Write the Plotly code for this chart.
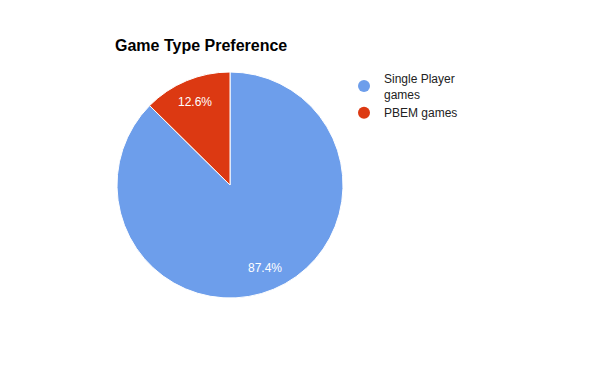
import math
import plotly.graph_objects as go

categories = ["Single Player<br>games", "PBEM games"]
values = [87.4, 12.6]
colors = ["#6d9eeb", "#dc3912"]

W, H = 600, 371
OFF = 8  # page body margin
cx, cy, r = 230 - OFF, 185 - OFF, 113

fig = go.Figure()
fig.add_trace(go.Pie(
    labels=categories, values=values, sort=False, direction="clockwise", rotation=0,
    marker=dict(colors=colors, line=dict(color="white", width=1)),
    textinfo="none", showlegend=False, hoverinfo="label+percent",
    domain=dict(x=[(cx - r) / W, (cx + r) / W], y=[(H - cy - r) / H, (H - cy + r) / H]),
))
for name, c in zip(categories, colors):
    fig.add_trace(go.Scatter(x=[None], y=[None], mode="markers", name=name,
                             marker=dict(symbol="circle", size=12, color=c)))

# percentage labels at 0.8 r along each slice's mid-angle
total = sum(values)
acc = 0
annotations = []
for v in values:
    mid = (acc + v / 2) / total * 2 * math.pi
    acc += v
    px = cx + 0.8 * r * math.sin(mid)
    py = cy - 0.8 * r * math.cos(mid)
    annotations.append(dict(x=px / W, y=1 - py / H, xref="paper", yref="paper",
                            xanchor="center", yanchor="middle",
                            text=f"{v / total * 100:.1f}%", showarrow=False,
                            font=dict(color="white", size=12, family="Liberation Sans, Arial")))

fig.update_layout(
    width=W, height=H, margin=dict(l=0, r=0, t=0, b=0),
    paper_bgcolor="white", plot_bgcolor="white",
    font=dict(family="Liberation Sans, Arial", size=12, color="#222222"),
    xaxis=dict(visible=False), yaxis=dict(visible=False),
    title=dict(text="<b>Game Type Preference</b>", x=(115 - OFF) / W, xanchor="left",
               y=1 - (45 - OFF) / H, yanchor="middle",
               font=dict(size=16, color="#000000", family="Liberation Sans, Arial")),
    legend=dict(x=336 / W, y=1 - 56 / H, xanchor="left", yanchor="top",
                font=dict(size=12, color="#222222"), itemwidth=30,
                tracegroupgap=5, bgcolor="rgba(0,0,0,0)"),
    annotations=annotations,
)
fig.write_html("out.html")
